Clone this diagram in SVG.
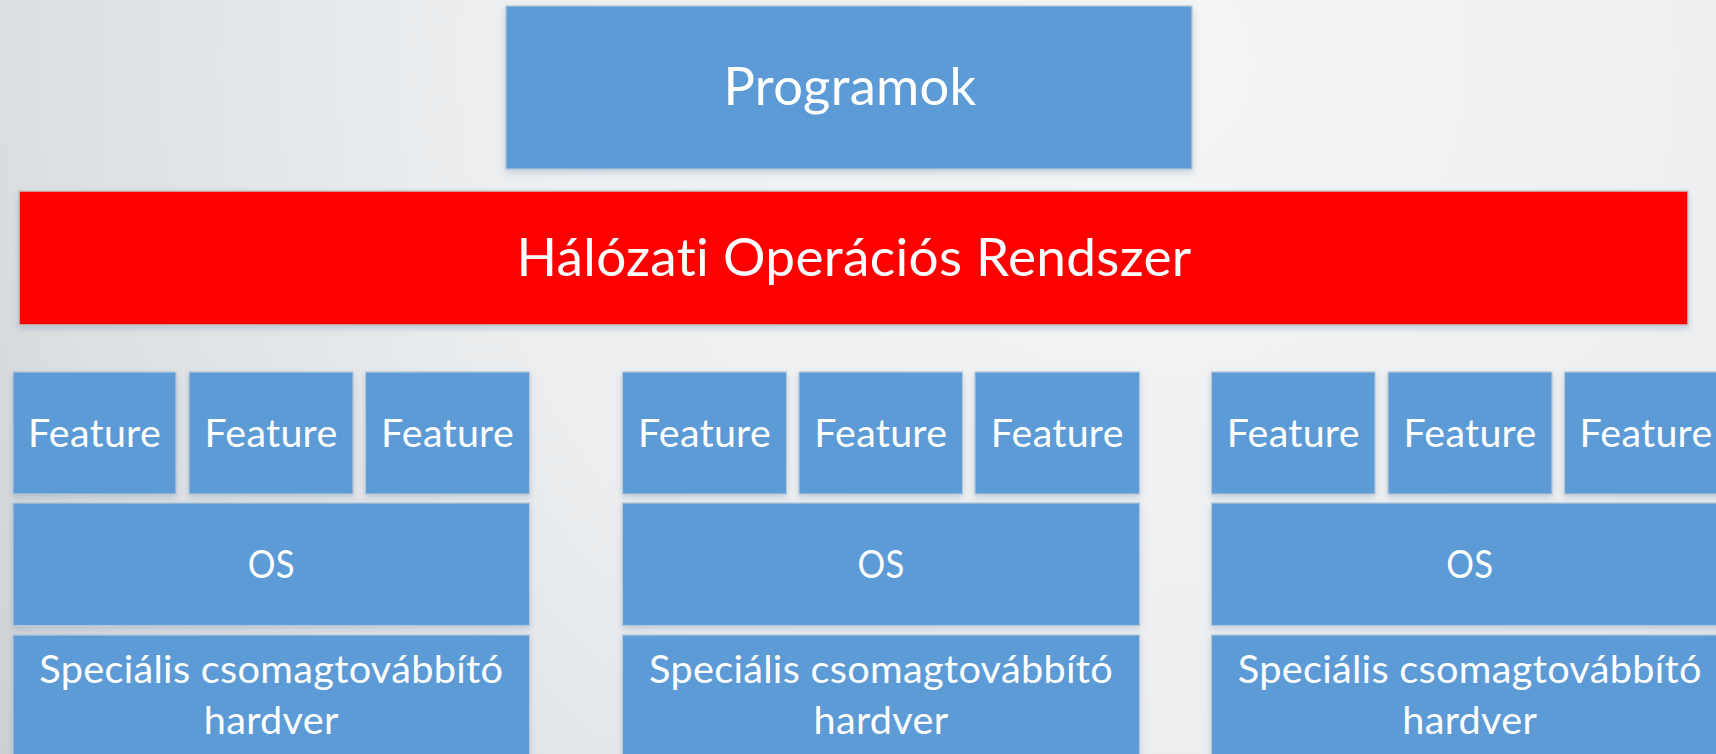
<svg xmlns="http://www.w3.org/2000/svg" width="1716" height="754" viewBox="0 0 1716 754">
  <defs>
    <radialGradient id="bg" cx="1150" cy="60" r="1500" gradientUnits="userSpaceOnUse">
      <stop offset="0" stop-color="#f4f5f5"/>
      <stop offset="0.45" stop-color="#eceef0"/>
      <stop offset="0.75" stop-color="#dcdfe1"/>
      <stop offset="1" stop-color="#c2c6c9"/>
    </radialGradient>
    <filter id="shadow" x="-5%" y="-10%" width="110%" height="130%">
      <feGaussianBlur in="SourceAlpha" stdDeviation="3"/>
      <feOffset dy="3" result="b"/>
      <feFlood flood-color="#6f8fb5" flood-opacity="0.35"/>
      <feComposite in2="b" operator="in"/>
      <feMerge>
        <feMergeNode/>
        <feMergeNode in="SourceGraphic"/>
      </feMerge>
    </filter>
  </defs>
  <style>
    .box { fill: #5b9bd5; stroke: #b4c6d8; stroke-width: 1.2; filter: url(#shadow); }
    .red { fill: #ff0000; stroke: #c9c9c9; stroke-width: 1.5; filter: url(#shadow); }
    text { font-family: Lato, "Open Sans", "Liberation Sans", sans-serif; fill: #ffffff; text-anchor: middle; font-variant-ligatures: none; font-feature-settings: "liga" 0, "clig" 0; letter-spacing: 0.3px; }
    .big { font-size: 53px; }
    .mid { font-size: 39.5px; }
  </style>

  <rect x="0" y="0" width="1716" height="754" fill="url(#bg)"/>

  <g id="programok">
    <rect class="box" x="506" y="6" width="686" height="163"/>
    <text class="big" x="850" y="105" textLength="253" lengthAdjust="spacingAndGlyphs">Programok</text>
  </g>

  <g id="halozati-os">
    <rect class="red" x="19" y="191" width="1669" height="134"/>
    <text class="big" x="854" y="276" textLength="675" lengthAdjust="spacingAndGlyphs">Hálózat&#8204;i Operációs Rendszer</text>
  </g>

  <!-- left device stack -->
  <g id="dev1-feature1">
    <rect class="box" x="13" y="372" width="163" height="122"/>
    <text class="mid" x="94.5" y="446.5" textLength="133" lengthAdjust="spacingAndGlyphs">Feature</text>
  </g>
  <g id="dev1-feature2">
    <rect class="box" x="189" y="372" width="164" height="122"/>
    <text class="mid" x="271" y="446.5" textLength="133" lengthAdjust="spacingAndGlyphs">Feature</text>
  </g>
  <g id="dev1-feature3">
    <rect class="box" x="365.5" y="372" width="164" height="122"/>
    <text class="mid" x="447.5" y="446.5" textLength="133" lengthAdjust="spacingAndGlyphs">Feature</text>
  </g>
  <g id="dev1-os">
    <rect class="box" x="13" y="503" width="516.5" height="122.5"/>
    <text class="mid" x="271.25" y="578" textLength="47" lengthAdjust="spacingAndGlyphs">OS</text>
  </g>
  <g id="dev1-hw">
    <rect class="box" x="13" y="635" width="516.5" height="150"/>
    <text class="mid" x="271.25" y="682.5" textLength="464" lengthAdjust="spacingAndGlyphs">Speciális csomagtovábbító</text>
    <text class="mid" x="271.25" y="734" textLength="135" lengthAdjust="spacingAndGlyphs">hardver</text>
  </g>

  <!-- middle device stack -->
  <g id="dev2-feature1">
    <rect class="box" x="622.5" y="372" width="164" height="122"/>
    <text class="mid" x="704.5" y="446.5" textLength="133" lengthAdjust="spacingAndGlyphs">Feature</text>
  </g>
  <g id="dev2-feature2">
    <rect class="box" x="799" y="372" width="163.5" height="122"/>
    <text class="mid" x="880.75" y="446.5" textLength="133" lengthAdjust="spacingAndGlyphs">Feature</text>
  </g>
  <g id="dev2-feature3">
    <rect class="box" x="975" y="372" width="164.5" height="122"/>
    <text class="mid" x="1057.25" y="446.5" textLength="133" lengthAdjust="spacingAndGlyphs">Feature</text>
  </g>
  <g id="dev2-os">
    <rect class="box" x="622.5" y="503" width="517" height="122.5"/>
    <text class="mid" x="881" y="578" textLength="47" lengthAdjust="spacingAndGlyphs">OS</text>
  </g>
  <g id="dev2-hw">
    <rect class="box" x="622.5" y="635" width="517" height="150"/>
    <text class="mid" x="881" y="682.5" textLength="464" lengthAdjust="spacingAndGlyphs">Speciális csomagtovábbító</text>
    <text class="mid" x="881" y="734" textLength="135" lengthAdjust="spacingAndGlyphs">hardver</text>
  </g>

  <!-- right device stack (runs past the right edge) -->
  <g id="dev3-feature1">
    <rect class="box" x="1211.5" y="372" width="163.5" height="122"/>
    <text class="mid" x="1293.25" y="446.5" textLength="133" lengthAdjust="spacingAndGlyphs">Feature</text>
  </g>
  <g id="dev3-feature2">
    <rect class="box" x="1388" y="372" width="164" height="122"/>
    <text class="mid" x="1470" y="446.5" textLength="133" lengthAdjust="spacingAndGlyphs">Feature</text>
  </g>
  <g id="dev3-feature3">
    <rect class="box" x="1564.5" y="372" width="163.5" height="122"/>
    <text class="mid" x="1646" y="446.5" textLength="133" lengthAdjust="spacingAndGlyphs">Feature</text>
  </g>
  <g id="dev3-os">
    <rect class="box" x="1211.5" y="503" width="516.5" height="122.5"/>
    <text class="mid" x="1469.75" y="578" textLength="47" lengthAdjust="spacingAndGlyphs">OS</text>
  </g>
  <g id="dev3-hw">
    <rect class="box" x="1211.5" y="635" width="516.5" height="150"/>
    <text class="mid" x="1469.75" y="682.5" textLength="464" lengthAdjust="spacingAndGlyphs">Speciális csomagtovábbító</text>
    <text class="mid" x="1469.75" y="734" textLength="135" lengthAdjust="spacingAndGlyphs">hardver</text>
  </g>

  <g id="connectors"/>
</svg>
